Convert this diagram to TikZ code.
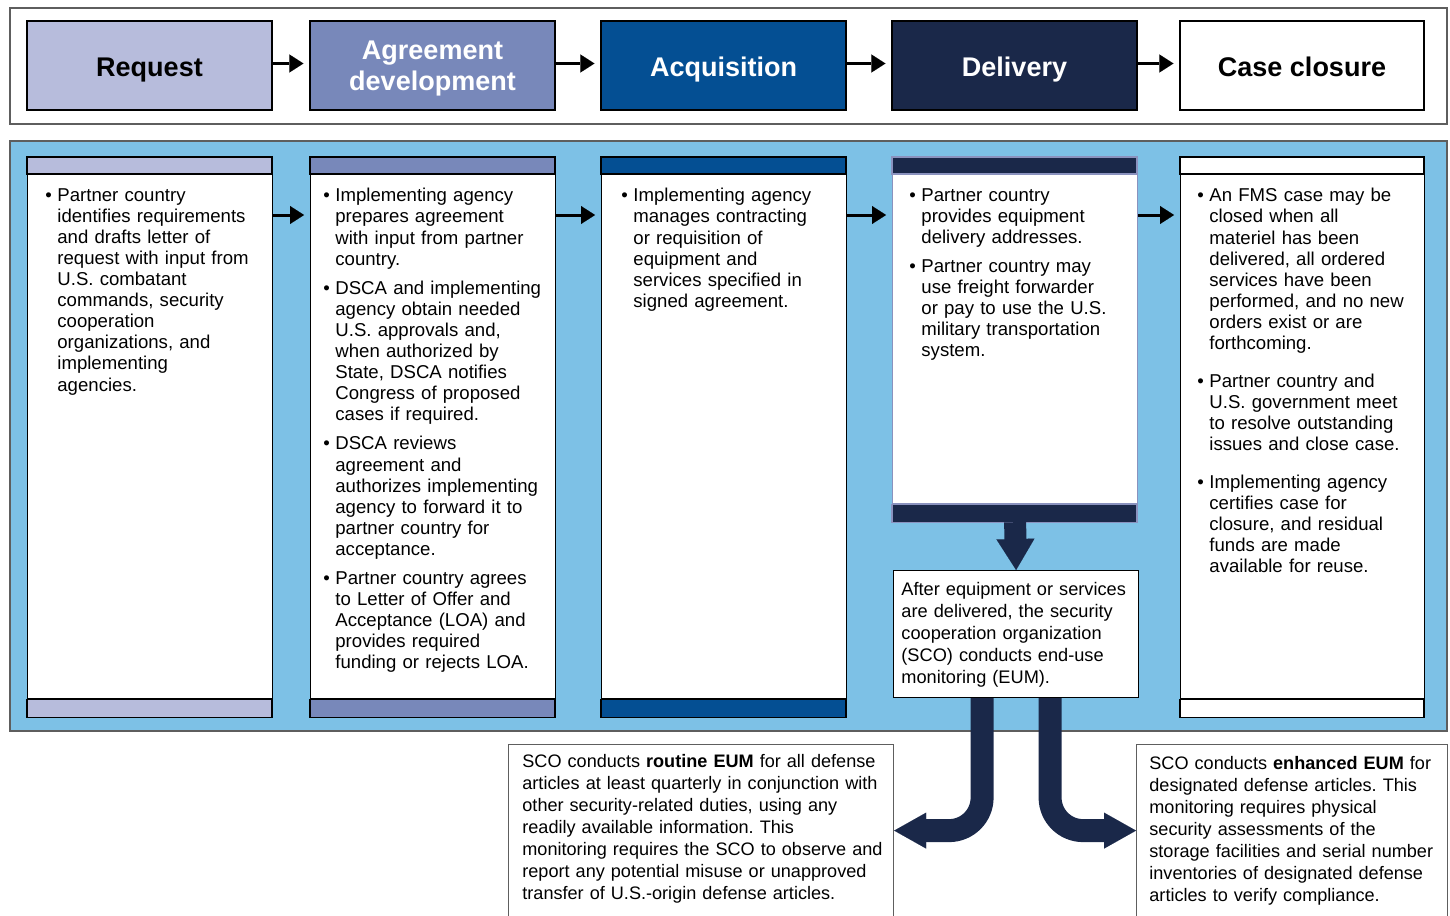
\documentclass[tikz,border=0pt]{standalone}
\usepackage{fontspec}
\setmainfont{Liberation Sans}
\usepackage{tikz}
\usetikzlibrary{arrows.meta,calc}
\usepackage{xcolor}

\definecolor{reqfill}{HTML}{B7BCDC}
\definecolor{agrfill}{HTML}{7888BA}
\definecolor{acqfill}{HTML}{044F93}
\definecolor{dlvfill}{HTML}{1A2849}
\definecolor{dlvedge}{HTML}{8A92BE}
\definecolor{panelfill}{HTML}{7DC1E6}
\definecolor{framegray}{HTML}{5E5E5E}

\setlength{\parindent}{0pt}
\frenchspacing
% bullet point, later lines indented
\newcommand{\bpt}{\leftskip=6pt\noindent\hspace*{-6pt}\makebox[6pt][l]{\textbullet}\ignorespaces}
\newcommand{\nl}{\newline}

\begin{document}
\begin{tikzpicture}[x=0.5pt,y=-0.5pt]
    \tikzstyle{phase}=[draw=black,line width=0.6pt,minimum width=122.5pt,minimum height=44.5pt,inner sep=0,align=center,font=\fontsize{13.5}{15.5}\selectfont\bfseries]
    \tikzstyle{one line}=[text height=11.5pt,text depth=0pt]
    \tikzstyle{col body}=[draw=black,line width=0.6pt,fill=white,anchor=north west,minimum width=122.5pt,minimum height=262pt,inner sep=0]
    \tikzstyle{bar}=[draw=black,line width=0.6pt]
    \tikzstyle{col text}=[anchor=north west,inner sep=0,text width=118pt,font=\fontsize{9.3}{10.55}\selectfont]
    \tikzstyle{note box}=[draw=framegray,line width=0.6pt,fill=white,anchor=north west,minimum height=86pt,inner sep=0]
    \tikzstyle{note}=[anchor=north west,inner sep=0,font=\fontsize{9.05}{11}\selectfont]
    \tikzstyle{flow arrow}=[line width=1.5pt,shorten >=3pt,-{Triangle[length=7pt,width=9pt,line width=0.01pt]}]
    \tikzstyle{fat arrow}=[draw=dlvfill,line width=11pt,-{Triangle[length=15.5pt,width=19pt,line width=0.01pt]}]
    \tikzstyle{fat bend}=[draw=dlvfill,line width=11.5pt,rounded corners=16.5pt,-{Triangle[length=16pt,width=18pt,line width=0.01pt]}]
    \useasboundingbox (0,0) rectangle (1450,915);

% phases
\draw[framegray,line width=0.6pt] (10,8) rectangle (1447,124);
\node[phase,one line,fill=reqfill] (request) at (149.5,65.5) {Request};
\node[phase,fill=agrfill] (agreement) at (432.5,65.5) {};
\node[align=center,text=white,font=\fontsize{13.5}{15.5}\selectfont\bfseries] (agreement text) at ([yshift=-1.5pt]agreement.center) {Agreement\\development};
\node[phase,one line,fill=acqfill,text=white] (acquisition) at (723.5,65.5) {Acquisition};
\node[phase,one line,fill=dlvfill,text=white] (delivery) at (1014.5,65.5) {Delivery};
\node[phase,one line,fill=white,minimum width=122pt] (closure) at (1302,65.5) {Case closure};
\draw[flow arrow] ([yshift=1pt]request.east) -- ([yshift=1pt]agreement.west);
\draw[flow arrow] ([yshift=1pt]agreement.east) -- ([yshift=1pt]acquisition.west);
\draw[flow arrow] ([yshift=1pt]acquisition.east) -- ([yshift=1pt]delivery.west);
\draw[flow arrow] ([yshift=1pt]delivery.east) -- ([yshift=1pt]closure.west);

% detail panel
\filldraw[fill=panelfill,draw=framegray,line width=0.6pt] (10,141) rectangle (1447,731);

\node[col body] (c1) at (27,174) {};
\filldraw[bar,fill=reqfill] (c1.north west) rectangle ++(245,-17);
\filldraw[bar,fill=reqfill] (c1.south west) rectangle ++(245,18);

\node[col body] (c2) at (310,174) {};
\filldraw[bar,fill=agrfill] (c2.north west) rectangle ++(245,-17);
\filldraw[bar,fill=agrfill] (c2.south west) rectangle ++(245,18);

\node[col body] (c3) at (601,174) {};
\filldraw[bar,fill=acqfill] (c3.north west) rectangle ++(245,-17);
\filldraw[bar,fill=acqfill] (c3.south west) rectangle ++(245,18);

\node[col body,draw=dlvedge,minimum height=164.5pt] (c4) at (892,174) {};
\filldraw[bar,draw=dlvedge,fill=dlvfill] (c4.north west) rectangle ++(245,-17);
\filldraw[bar,draw=dlvedge,fill=dlvfill] (c4.south west) rectangle ++(245,18);

\node[col body,minimum width=122pt] (c5) at (1180,174) {};
\filldraw[bar,fill=white] (c5.north west) rectangle ++(244,-17);
\filldraw[bar,fill=white] (c5.south west) rectangle ++(244,18);

\node[col text] (t1) at (45,188) {\bpt Partner country\nl identifies requirements\nl and drafts letter of\nl request with input from\nl U.S. combatant\nl commands, security\nl cooperation\nl organizations, and\nl implementing\nl agencies.\par};
\node[col text] (t2) at (323,188) {\bpt Implementing agency\nl prepares agreement\nl with input from partner\nl country.
    \par\vspace{4pt}\bpt DSCA and implementing\nl agency obtain needed\nl U.S. approvals and,\nl when authorized by\nl State, DSCA notifies\nl Congress of proposed\nl cases if required.
    \par\vspace{4pt}\bpt DSCA reviews\nl agreement and\nl authorizes implementing\nl agency to forward it to\nl partner country for\nl acceptance.
    \par\vspace{4pt}\bpt Partner country agrees\nl to Letter of Offer and\nl Acceptance (LOA) and\nl provides required\nl funding or rejects LOA.\par};
\node[col text] (t3) at (621,188) {\bpt Implementing agency\nl manages contracting\nl or requisition of\nl equipment and\nl services specified in\nl signed agreement.\par};
\node[col text] (t4) at (909,188) {\bpt Partner country\nl provides equipment\nl delivery addresses.
    \par\vspace{4pt}\bpt Partner country may\nl use freight forwarder\nl or pay to use the U.S.\nl military transportation\nl system.\par};
\node[col text] (t5) at (1197,188) {\bpt An FMS case may be\nl closed when all\nl materiel has been\nl delivered, all ordered\nl services have been\nl performed, and no new\nl orders exist or are\nl forthcoming.
    \par\vspace{8.5pt}\bpt Partner country and\nl U.S. government meet\nl to resolve outstanding\nl issues and close case.
    \par\vspace{8pt}\bpt Implementing agency\nl certifies case for\nl closure, and residual\nl funds are made\nl available for reuse.\par};

\draw[flow arrow] ([yshift=-20.5pt]c1.north east) -- ([yshift=-20.5pt]c2.north west);
\draw[flow arrow] ([yshift=-20.5pt]c2.north east) -- ([yshift=-20.5pt]c3.north west);
\draw[flow arrow] ([yshift=-20.5pt]c3.north east) -- ([yshift=-20.5pt]c4.north west);
\draw[flow arrow] ([yshift=-20.5pt]c4.north east) -- ([yshift=-20.5pt]c5.north west);

% end-use monitoring
\node[draw=black,line width=0.6pt,fill=white,anchor=north west,minimum width=122.5pt,minimum height=63.5pt,inner sep=0] (eum) at (893,570) {};
\node[note,text width=125pt,font=\fontsize{9.1}{11}\selectfont] (eum text) at (901,582) {After equipment or services\nl are delivered, the security\nl cooperation organization\nl (SCO) conducts end-use\nl monitoring (EUM).};
\draw[fat arrow] ($(c4.south)+(0,18)$) -- (eum.north);

\node[note box,minimum width=192.5pt] (routine) at (508,744) {};
\node[note,text width=186pt] (routine text) at (522,754) {SCO conducts \textbf{routine EUM} for all defense\nl articles at least quarterly in conjunction with\nl other security-related duties, using any\nl readily available information. This\nl monitoring requires the SCO to observe and\nl report any potential misuse or unapproved\nl transfer of U.S.-origin defense articles.};
\node[note box,minimum width=155.5pt] (enhanced) at (1136,744) {};
\node[note,text width=148pt] (enhanced text) at (1149,756) {SCO conducts \textbf{enhanced EUM} for\nl designated defense articles. This\nl monitoring requires physical\nl security assessments of the\nl storage facilities and serial number\nl inventories of designated defense\nl articles to verify compliance.};

\draw[fat bend] ($(eum.south)+(-34,0)$) |- (routine.east);
\draw[fat bend] ($(eum.south)+(34,0)$) |- (enhanced.west);
\end{tikzpicture}
\end{document}
